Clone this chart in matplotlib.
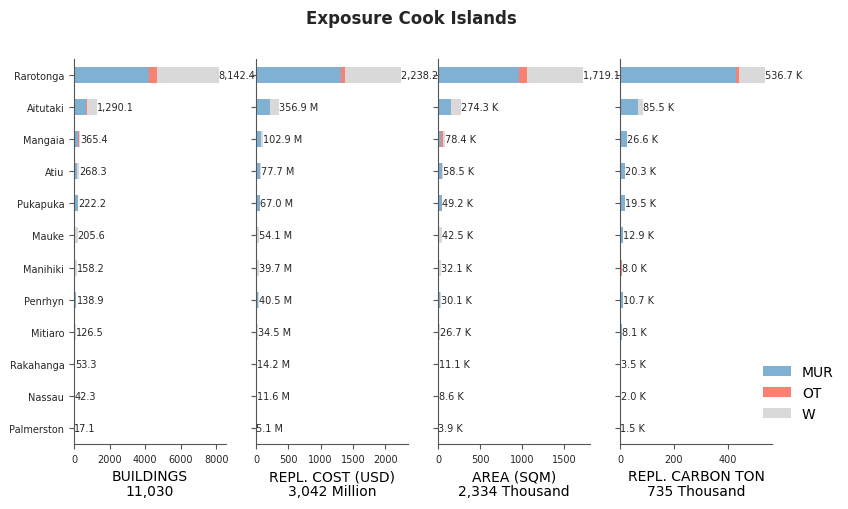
import matplotlib
matplotlib.use("Agg")
import matplotlib.pyplot as plt
import numpy as np

islands = ["Rarotonga", "Aitutaki", "Mangaia", "Atiu", "Pukapuka", "Mauke",
           "Manihiki", "Penrhyn", "Mitiaro", "Rakahanga", "Nassau", "Palmerston"]
categories = ["MUR", "OT", "W"]

buildings_mur = [4225, 660, 210, 150, 200, 20, 8, 120, 16, 40, 35, 12]
buildings_ot = [435, 72, 70, 0, 0, 0, 0, 0, 0, 0, 0, 0]
buildings_w = [3482.4, 558.1, 85.4, 118.3, 22.2, 185.6, 150.2, 18.9, 110.5, 13.3, 7.3, 5.1]

cost_mur = [1314, 212, 77, 65, 62, 15, 3, 36, 5, 12, 10, 4]
cost_ot = [57, 0, 0, 0, 0, 0, 0, 0, 0, 0, 0, 0]
cost_w = [867.2, 144.9, 25.9, 12.7, 5.0, 39.1, 36.7, 4.5, 29.5, 2.2, 1.6, 1.1]

area_mur = [966, 151, 35, 45, 45, 10, 3, 27, 5, 9, 7, 3]
area_ot = [88, 5, 30, 0, 0, 0, 0, 0, 0, 0, 0, 0]
area_w = [665.1, 118.3, 13.4, 13.5, 4.2, 32.5, 29.1, 3.1, 21.7, 2.1, 1.6, 0.9]

carbon_mur = [429, 67, 24.5, 19.5, 19.0, 12.0, 1.5, 10.0, 7.0, 3.0, 1.6, 1.2]
carbon_ot = [12.5, 0, 0, 0, 0, 0, 4.5, 0, 0, 0, 0, 0]
carbon_w = [95.2, 18.5, 2.1, 0.8, 0.5, 0.9, 2.0, 0.7, 1.1, 0.5, 0.4, 0.3]

panels = [
    ("BUILDINGS\n11,030", buildings_mur, buildings_ot, buildings_w, ""),
    ("REPL. COST (USD)\n3,042 Million", cost_mur, cost_ot, cost_w, " M"),
    ("AREA (SQM)\n2,334 Thousand", area_mur, area_ot, area_w, " K"),
    ("REPL. CARBON TON\n735 Thousand", carbon_mur, carbon_ot, carbon_w, " K"),
]

xticks = [
    [0, 2000, 4000, 6000, 8000],
    [0, 500, 1000, 1500, 2000],
    [0, 500, 1000, 1500],
    [0, 200, 400],
]

colors = {"MUR": "#80b1d3", "OT": "#fb8072", "W": "#d9d9d9"}
spine_col = "#555555"
text_col = "#262626"

fig = plt.figure(figsize=(8.48, 5.10), dpi=100)
fig.suptitle("Exposure Cook Islands", fontsize=12, fontweight="bold",
             x=411 / 848, y=0.98, color=text_col)

y = np.arange(len(islands))
left0, width, step = 74 / 848, 152 / 848, 182 / 848
bottom, height = 1 - 445 / 510, (445 - 60) / 510

handles = None
for i, (label, mur, ot, w, unit) in enumerate(panels):
    ax = fig.add_axes([left0 + i * step, bottom, width, height])
    mur = np.array(mur, float)
    ot = np.array(ot, float)
    w = np.array(w, float)
    b1 = ax.barh(y, mur, height=0.5, color=colors["MUR"], label="MUR")
    b2 = ax.barh(y, ot, left=mur, height=0.5, color=colors["OT"], label="OT")
    b3 = ax.barh(y, w, left=mur + ot, height=0.5, color=colors["W"], label="W")
    handles = [b1, b2, b3]
    total = mur + ot + w
    for yi, t in zip(y, total):
        ax.text(t, yi, f"{t:,.1f}{unit}", va="center", ha="left", fontsize=7,
                color=text_col, clip_on=False)
    ax.set_ylim(len(islands) - 0.5, -0.5)
    ax.set_xlim(0, total.max() * 1.05)
    ax.set_yticks(y)
    if i == 0:
        ax.set_yticklabels(islands, fontsize=7, color=text_col)
    else:
        ax.set_yticklabels([])
    ax.set_xticks(xticks[i])
    ax.tick_params(axis="x", labelsize=7, colors=text_col, length=3.5, color=spine_col)
    ax.tick_params(axis="y", length=3.5, color=spine_col)
    for s in ["top", "right"]:
        ax.spines[s].set_visible(False)
    for s in ["left", "bottom"]:
        ax.spines[s].set_color(spine_col)
    ax.set_xlabel(label, fontsize=10, color="black", linespacing=1.1)

fig.legend(handles, categories, loc="center left", bbox_to_anchor=(0.885, 0.228),
           frameon=False, fontsize=10, handlelength=2.0, handleheight=0.7)

fig.savefig("out.png", dpi=100)
